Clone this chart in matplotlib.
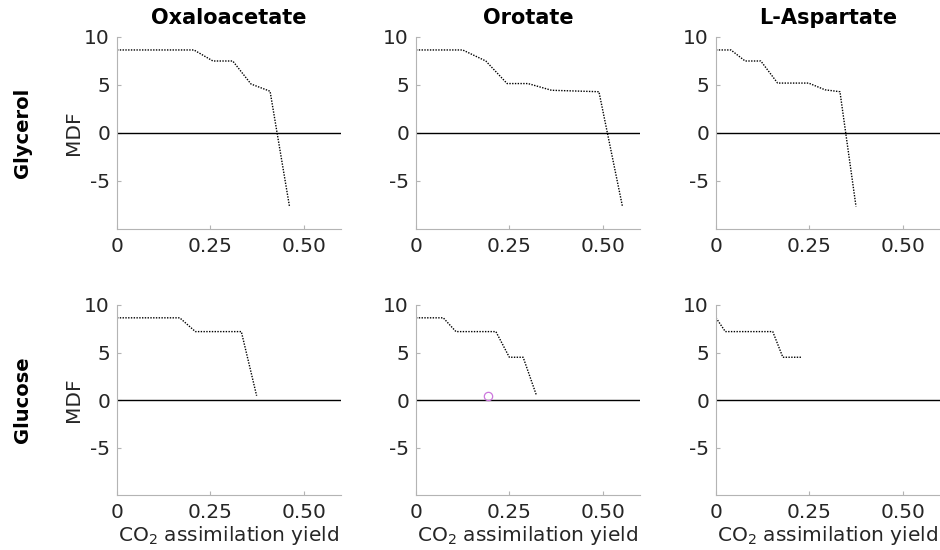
import matplotlib
matplotlib.use("Agg")
import matplotlib.pyplot as plt

products = ["Oxaloacetate", "Orotate", "L-Aspartate"]
substrates = ["Glycerol", "Glucose"]

# Glycerol row
gly_oaa_x = [0.0, 0.206, 0.257, 0.31, 0.359, 0.41, 0.462]
gly_oaa_y = [8.65, 8.65, 7.5, 7.5, 5.1, 4.35, -7.65]
gly_oro_x = [0.0, 0.125, 0.187, 0.244, 0.30, 0.363, 0.49, 0.553]
gly_oro_y = [8.65, 8.65, 7.5, 5.15, 5.15, 4.45, 4.3, -7.65]
gly_asp_x = [0.0, 0.04, 0.078, 0.12, 0.165, 0.248, 0.292, 0.332, 0.375]
gly_asp_y = [8.65, 8.65, 7.5, 7.5, 5.2, 5.2, 4.5, 4.3, -7.65]

# Glucose row
glc_oaa_x = [0.0, 0.168, 0.21, 0.333, 0.374]
glc_oaa_y = [8.65, 8.65, 7.2, 7.2, 0.45]
glc_oro_x = [0.0, 0.073, 0.107, 0.214, 0.25, 0.287, 0.323]
glc_oro_y = [8.65, 8.65, 7.2, 7.2, 4.5, 4.5, 0.45]
glc_asp_x = [0.0, 0.025, 0.152, 0.179, 0.228]
glc_asp_y = [8.65, 7.2, 7.2, 4.5, 4.5]

# single marked point (glucose / orotate)
mark_x = [0.193]
mark_y = [0.4]

xticks = [0, 0.25, 0.5]
xticklabels = ["0", "0.25", "0.50"]
yticks = [-5, 0, 5, 10]
yticklabels = ["-5", "0", "5", "10"]

series = [
    [(gly_oaa_x, gly_oaa_y), (gly_oro_x, gly_oro_y), (gly_asp_x, gly_asp_y)],
    [(glc_oaa_x, glc_oaa_y), (glc_oro_x, glc_oro_y), (glc_asp_x, glc_asp_y)],
]

plt.rcParams['font.family'] = ['DejaVu Sans']
fig = plt.figure(figsize=(9.4, 5.5), dpi=100)

lefts = [117 / 940, 416 / 940, 716 / 940]
width = 224 / 940
rows = [(1 - 229 / 550, 192 / 550), (1 - 495 / 550, 190 / 550)]

spine_col = '#b4b4b4'
text_col = '#262626'
fs = 14.5

for r in range(2):
    for c in range(3):
        b, h = rows[r]
        ax = fig.add_axes([lefts[c], b, width, h])
        xs, ys = series[r][c]
        ax.plot([0, 0.6], [0, 0], color='black', lw=1.0)
        ax.plot(xs, ys, color='black', lw=1.0, linestyle=(0, (1, 1)))
        if r == 1 and c == 1:
            ax.plot(mark_x, mark_y, marker='o', ms=6, mfc='none',
                    mec='#cc77dd', mew=0.9, linestyle='none')
        ax.set_xlim(0, 0.6)
        ax.set_ylim(-10, 10)
        ax.set_xticks(xticks)
        ax.set_xticklabels(xticklabels)
        ax.set_yticks(yticks)
        ax.set_yticklabels(yticklabels)
        for s in ['top', 'right']:
            ax.spines[s].set_visible(False)
        for s in ['left', 'bottom']:
            ax.spines[s].set_color(spine_col)
            ax.spines[s].set_linewidth(0.8)
        ax.tick_params(direction='in', length=3, color=spine_col,
                       labelsize=fs, labelcolor=text_col)
        ax.tick_params(axis='x', pad=6)
        ax.tick_params(axis='y', pad=5)
        if r == 0:
            ax.set_title(products[c], fontsize=15, fontweight='bold', pad=9)
        if c == 0:
            ax.set_ylabel("MDF", fontsize=fs, color=text_col, labelpad=1)
            ax.text(-0.42, 0.5, substrates[r], transform=ax.transAxes,
                    rotation=90, ha='center', va='center',
                    fontsize=14, fontweight='bold')
        if r == 1:
            ax.set_xlabel("CO$_2$ assimilation yield", fontsize=fs,
                          color=text_col, labelpad=1)

fig.savefig("out.png", dpi=100)
